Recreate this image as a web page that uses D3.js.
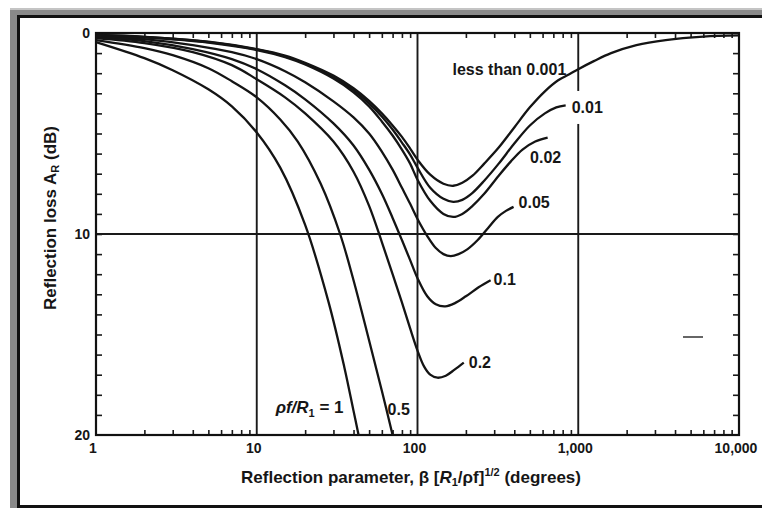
<!DOCTYPE html>
<html>
<head>
<meta charset="utf-8">
<script src="https://cdn.jsdelivr.net/npm/d3@7"></script>
<style>
  body { margin: 0; background: #fff; }
  svg { display: block; }
  text { font-family: "Liberation Sans", Arial, sans-serif; font-weight: bold; fill: #161616; }
</style>
</head>
<body>
<div class="container"></div>
<script>
// reflection loss curves, one pair of arrays per ρf/R1 value
var beta_0001 = [1,2,5,10,15,20,30,40,50,60,70,80,90,100,120,145,167,190,220,260,320,400,500,620,750,880,1000,1250,1600,2300,3500,6000,10000];
var loss_0001 = [0.1,0.19,0.43,0.8,1.12,1.48,2.12,2.75,3.38,4.0,4.6,5.17,5.75,6.3,7.05,7.5,7.6,7.45,7.1,6.5,5.7,4.7,3.7,2.9,2.35,2.05,1.8,1.4,1.0,0.6,0.35,0.18,0.12];

var beta_001 = [1,2,5,10,15,20,30,40,50,60,70,80,90,100,120,145,167,190,220,260,320,400,500,620,730,835];
var loss_001 = [0.1,0.2,0.45,0.82,1.17,1.52,2.2,2.85,3.5,4.15,4.8,5.45,6.05,6.7,7.7,8.25,8.4,8.3,7.95,7.35,6.5,5.5,4.6,4.0,3.7,3.6];

var beta_002 = [1,2,5,10,15,20,30,40,50,60,70,80,90,100,120,145,167,190,220,260,320,380,450,540,645];
var loss_002 = [0.12,0.22,0.48,0.85,1.2,1.57,2.27,2.95,3.65,4.4,5.1,5.8,6.5,7.3,8.35,9.0,9.15,9.0,8.6,8.0,7.1,6.4,5.8,5.4,5.2];

var beta_005 = [1,2,4,7,10,15,20,30,40,50,60,70,80,90,100,115,130,145,161,180,205,237,275,316,355,396];
var loss_005 = [0.15,0.3,0.6,0.95,1.3,1.9,2.45,3.4,4.2,5.0,5.9,6.8,7.7,8.5,9.25,10.1,10.7,11.0,11.1,11.0,10.75,10.3,9.7,9.15,8.85,8.65];

var beta_01 = [1,2,4,7,10,15,20,30,40,50,60,70,80,90,100,115,130,149,170,200,240,285];
var loss_01 = [0.2,0.4,0.8,1.3,1.8,2.6,3.3,4.5,5.6,6.8,8.0,9.2,10.3,11.3,12.2,13.1,13.5,13.6,13.45,13.1,12.65,12.3];

var beta_02 = [1,2,4,7,10,15,20,30,40,50,60,70,80,90,100,110,120,133,150,170,194];
var loss_02 = [0.25,0.5,0.95,1.6,2.3,3.2,4.0,5.4,6.9,8.6,10.4,12.0,13.4,14.7,15.8,16.6,17.0,17.15,17.05,16.75,16.4];

var beta_05 = [1,2,3,5,7,10,14,18,25,33,40,50,60,70];
var loss_05 = [0.35,0.75,1.1,1.75,2.4,3.2,4.3,5.4,7.5,10,12.3,15.3,17.8,20];

var beta_1 = [1,2,3,5,7,10,14,20,28,35,40,43];
var loss_1 = [0.45,1.25,1.85,2.8,3.65,4.95,6.7,9.55,13.4,16.6,18.8,20];

var xTicks = [1,10,100,1000,10000];
var xTickLabels = ["1","10","100","1,000","10,000"];
var yTicks = [0,10,20];
var gridX = [10,100,1000];
var gridY = [10];

const WIDTH = 762;
const HEIGHT = 508;
const LEFT = 96, RIGHT = 739, TOP = 33, BOTTOM = 435;

var translate = function(x, y){
  return "translate("+x+","+y+")";
};

var _x = d3.scaleLog().domain([1,10000]).range([LEFT,RIGHT]);
var _y = d3.scaleLinear().domain([0,20]).range([TOP,BOTTOM]);

var _line = d3.line()
  .x(function(d){return _x(d[0])})
  .y(function(d){return _y(d[1])})
  .curve(d3.curveCatmullRom.alpha(0.5));

var zip = function(b, l){ return b.map(function(v,i){return [v,l[i]]}); };

var curves = [
  {name:"0.001", pts: zip(beta_0001, loss_0001), at: 25, dx: -3, dy: -5, anchor: "end"},
  {name:"0.01",  pts: zip(beta_001, loss_001),  dx: 6,  dy: 2,  anchor: "start"},
  {name:"0.02",  pts: zip(beta_002, loss_002),  dx: -2, dy: 20, anchor: "middle"},
  {name:"0.05",  pts: zip(beta_005, loss_005),  dx: 5,  dy: -4, anchor: "start"},
  {name:"0.1",   pts: zip(beta_01, loss_01),    dx: 3,  dy: -1, anchor: "start"},
  {name:"0.2",   pts: zip(beta_02, loss_02),    dx: 5,  dy: 0,  anchor: "start"},
  {name:"0.5",   pts: zip(beta_05, loss_05),    dx: -5, dy: -26, anchor: "start"},
  {name:"1",     pts: zip(beta_1, loss_1),      dx: -15, dy: -28, anchor: "end"}
];

var generateChart = function(){
  var svg = d3.select('.container').append('svg')
    .attr('width', WIDTH)
    .attr('height', HEIGHT);

  // scanned page frame
  svg.append('rect').attr('x',10).attr('y',8).attr('width',WIDTH).attr('height',HEIGHT).attr('fill','#8a8a8a');
  svg.append('rect').attr('x',10).attr('y',8).attr('width',WIDTH).attr('height',2).attr('fill','#c4c4c4');
  svg.append('rect').attr('x',17).attr('y',15).attr('width',WIDTH).attr('height',HEIGHT).attr('fill','#111');
  svg.append('rect').attr('x',20).attr('y',18).attr('width',WIDTH).attr('height',487).attr('fill','#fff');

  // minor ticks
  var minor = [];
  [1,10,100,1000].forEach(function(d){ for (var k=2;k<10;k++) minor.push(d*k); });
  var yMinor = d3.range(1,20);

  var axes = svg.append('g').attr('class','axes');
  axes.append('g').attr('transform', translate(0,BOTTOM))
    .call(d3.axisTop(_x).tickValues(minor).tickSize(5).tickFormat(''));
  axes.append('g').attr('transform', translate(0,TOP))
    .call(d3.axisBottom(_x).tickValues(minor).tickSize(5).tickFormat(''));
  axes.append('g').attr('transform', translate(LEFT,0))
    .call(d3.axisRight(_y).tickValues(yMinor).tickSize(6).tickFormat(''));
  axes.append('g').attr('transform', translate(RIGHT,0))
    .call(d3.axisLeft(_y).tickValues(yMinor).tickSize(6).tickFormat(''));
  axes.selectAll('.domain').remove();
  axes.selectAll('line').attr('stroke','#1a1a1a').attr('stroke-width',1.6);

  // grid lines
  svg.selectAll('.gx').data(gridX).enter().append('line')
    .attr('x1',function(d){return _x(d)}).attr('x2',function(d){return _x(d)})
    .attr('y1',TOP).attr('y2',BOTTOM)
    .attr('stroke','#1a1a1a').attr('stroke-width',1.9);
  svg.selectAll('.gy').data(gridY).enter().append('line')
    .attr('x1',LEFT).attr('x2',RIGHT)
    .attr('y1',function(d){return _y(d)}).attr('y2',function(d){return _y(d)})
    .attr('stroke','#1a1a1a').attr('stroke-width',1.9);

  // box
  svg.append('rect').attr('x',LEFT).attr('y',TOP)
    .attr('width',RIGHT-LEFT).attr('height',BOTTOM-TOP)
    .attr('fill','none').attr('stroke','#111').attr('stroke-width',2.2);

  // tick labels
  svg.selectAll('.xl').data(xTicks).enter().append('text')
    .attr('x',function(d){return _x(d)-3}).attr('y',BOTTOM+18)
    .attr('text-anchor','middle').attr('font-size',14)
    .text(function(d,i){return xTickLabels[i]});
  svg.selectAll('.yl').data(yTicks).enter().append('text')
    .attr('x',LEFT-6).attr('y',function(d){return _y(d)})
    .attr('dy','0.35em').attr('text-anchor','end').attr('font-size',14)
    .text(function(d){return d});

  // curves
  var g = svg.append('g').classed('curves',true);
  g.selectAll('path').data(curves).enter().append('path')
    .attr('d',function(d){return _line(d.pts)})
    .attr('fill','none').attr('stroke','#141414').attr('stroke-width',2.3);

  // curve labels
  curves.forEach(function(c){
    var p = c.at !== undefined ? c.pts[c.at] : c.pts[c.pts.length-1];
    var t = svg.append('text')
      .attr('x',_x(p[0])+c.dx).attr('y',_y(p[1])+c.dy)
      .attr('dy','0.35em').attr('text-anchor',c.anchor).attr('font-size',16);
    if (c.name === "0.001") {
      t.text("less than 0.001");
    } else if (c.name === "1") {
      t.attr('font-size',17);
      t.append('tspan').attr('font-style','italic').text('ρf/R');
      t.append('tspan').attr('font-size',11).attr('dy','4').text('1');
      t.append('tspan').attr('dy','-4').text(' = 1');
    } else {
      t.text(c.name);
    }
    if (c.name === "0.01") {
      // white gap in the 1,000 grid line behind the label
      var bb = t.node().getBBox();
      svg.insert('rect','.curves').attr('x',bb.x-2).attr('y',bb.y-8)
        .attr('width',bb.width+4).attr('height',bb.height+16).attr('fill','#fff');
    }
  });

  // axis titles
  var xt = svg.append('text').attr('x',411).attr('y',483)
    .attr('text-anchor','middle').attr('font-size',17);
  xt.append('tspan').text('Reflection parameter, β [');
  xt.append('tspan').attr('font-style','italic').text('R');
  xt.append('tspan').attr('font-size',11).attr('dy',3).text('1');
  xt.append('tspan').attr('dy',-3).text('/ρf]');
  xt.append('tspan').attr('font-size',11).attr('dy',-7).text('1/2');
  xt.append('tspan').attr('dy',7).text(' (degrees)');

  var yt = svg.append('text').attr('transform',translate(56,218)+' rotate(-90)')
    .attr('text-anchor','middle').attr('font-size',17);
  yt.append('tspan').text('Reflection loss A');
  yt.append('tspan').attr('font-size',11).attr('dy',3).text('R');
  yt.append('tspan').attr('dy',-3).text(' (dB)');

  // small scan mark
  svg.append('line').attr('x1',683).attr('x2',703).attr('y1',337).attr('y2',337)
    .attr('stroke','#333').attr('stroke-width',1.5);
}

window.onload = generateChart;
</script>
</body>
</html>
